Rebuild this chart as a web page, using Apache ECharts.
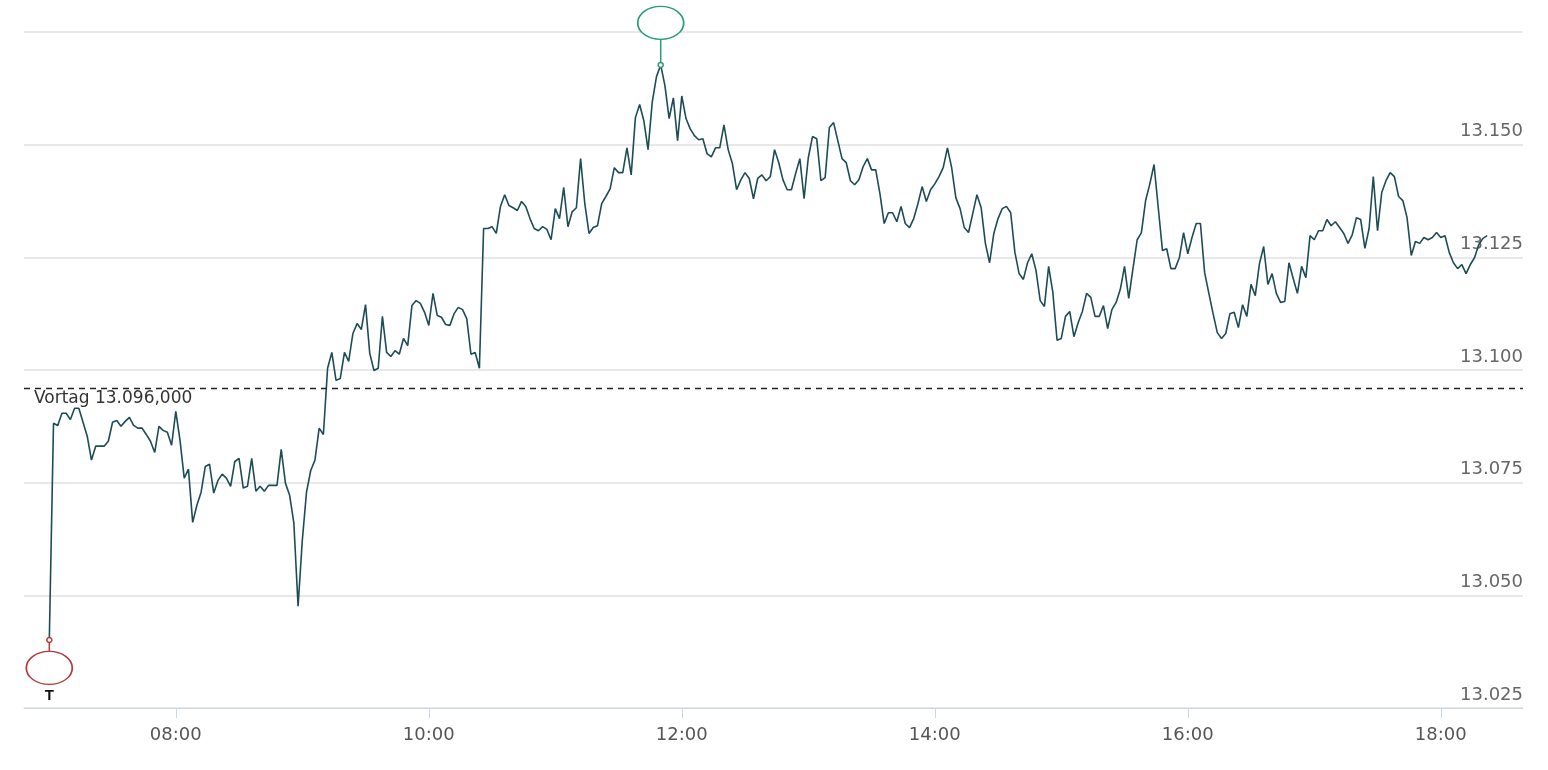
<!DOCTYPE html>
<html><head><meta charset="utf-8">
<script src="https://cdn.jsdelivr.net/npm/echarts@6/dist/echarts.min.js"></script>
<style>html,body{margin:0;padding:0;background:#fff}#c{width:1548px;height:770px}</style>
</head><body><div id="c"></div>
<script>
const startMinute = 420; // 07:00
const stepMinutes = 2;
const prevClose = 13096;
const xTickMinutes = [480, 600, 720, 840, 960, 1080];
const yTicks = [13025, 13050, 13075, 13100, 13125, 13150, 13175];
const values = [
13040.1,13088.2,13087.7,13090.4,13090.4,13089.0,13091.5,13091.5,13088.4,13085.3,13080.0,13083.1,13083.1,13083.1,13084.2,13088.4,13088.8,13087.5,13088.6,13089.5,
13087.7,13087.1,13087.1,13085.7,13084.2,13081.7,13087.5,13086.6,13086.2,13083.3,13090.8,13084.4,13076.0,13078.0,13066.2,13070.0,13072.9,13078.6,13079.1,13072.7,
13075.5,13076.9,13076.0,13074.2,13079.7,13080.4,13073.8,13074.2,13080.4,13073.1,13074.2,13073.1,13074.4,13074.4,13074.4,13082.4,13074.9,13072.2,13066.0,13047.6,
13062.2,13072.9,13077.7,13080.0,13087.1,13085.7,
13100.4,13103.9,13097.7,13098.1,13103.9,13101.9,13108.1,13110.3,13109.0,13114.5,13103.7,13099.9,13100.4,13111.9,13103.9,13103.0,13104.3,13103.5,13107.0,13105.4,
13114.3,13115.4,13114.8,13112.8,13109.9,13117.0,13112.1,13111.7,13110.1,13109.9,13112.5,13113.9,13113.4,13111.4,13103.5,13103.9,13100.4,13131.4,13131.4,13131.8,
13130.3,13136.3,13138.9,13136.5,13136.0,13135.4,13137.4,13136.3,13133.6,13131.4,13130.9,13131.8,13131.2,13128.9,13135.8,13133.6,13140.5,13131.8,13135.1,13136.0,
13146.9,13136.9,13130.3,13131.6,13132.0,13136.9,13138.5,13140.2,13144.9,13143.8,13143.8,13149.3,13143.3,13156.0,13158.9,13155.3,13148.9,13159.5,13165.1,13167.7,
13163.1,13155.8,13160.4,13150.9,13160.8,13155.8,13153.5,13152.0,13151.1,13151.3,13148.0,13147.3,
13149.3,13149.3,13154.4,13148.9,13145.8,13140.0,13142.2,13143.8,13142.5,13138.0,13142.5,13143.3,13142.0,13142.9,13148.9,13146.0,13142.2,13140.0,13140.0,13143.6,
13146.9,13138.0,13147.1,13151.8,13151.3,13142.0,13142.7,13153.8,13154.9,13150.9,13146.9,13146.0,13142.0,13141.1,13142.2,13145.1,13146.9,13144.4,13144.4,13139.1,
13132.5,13134.9,13134.9,13132.9,13136.3,13132.5,13131.6,13133.6,13136.9,13140.7,13137.4,13140.0,13141.3,13142.9,13144.9,13149.3,13144.9,13138.2,13135.8,13131.6,
13130.5,13134.7,13138.9,13136.0,13128.1,13123.8,13130.3,13133.6,13135.8,13136.3,13134.9,13126.1,13121.4,13120.1,13123.8,13125.8,13122.1,13115.4,13114.1,13123.0,
13117.2,13106.6,13107.0,13111.9,13113.0,13107.4,13110.5,13113.0,13117.0,13116.1,13111.9,13111.9,13114.3,13109.2,13113.4,
13115.0,13117.9,13123.0,13115.9,13122.5,13128.9,13130.5,13137.6,13141.3,13145.6,13136.0,13126.5,13126.9,13122.5,13122.5,13124.9,13130.5,13125.8,13129.4,13132.5,
13132.5,13121.6,13117.0,13112.5,13108.3,13107.0,13108.1,13112.5,13112.8,13109.4,13114.5,13111.9,13119.0,13116.5,13123.6,13127.4,13119.0,13121.4,13117.0,13115.0,
13115.2,13123.8,13120.3,13117.0,13123.0,13120.5,13129.8,13128.9,13130.9,13130.9,13133.4,13132.0,13132.9,13131.6,13130.3,13128.1,13130.0,13133.8,13133.4,13127.0,
13131.4,13142.9,13130.9,13139.4,13142.0,13143.8,13142.9,13138.5,13137.6,13133.8,13125.4,13128.5,13128.1,13129.4,13128.9,13129.4,13130.5,13129.4,13129.8,13126.1,
13123.8,13122.5,13123.4,13121.4,13123.4,13124.9,13127.8,13129.2,13129.8
];
const data = values.map((v, i) => [startMinute + i * stepMinutes, v]);
let hi = 0, lo = 0;
values.forEach((v, i) => { if (v > values[hi]) hi = i; if (v < values[lo]) lo = i; });

const pad = n => String(n).padStart(2, '0');
const fmtTime = m => pad(Math.floor(m / 60)) + ':' + pad(Math.round(m % 60));
const fmtNum = v => String(Math.round(v)).replace(/\B(?=(\d{3})+(?!\d))/g, '.');

function marker(idx, color, text, up) {
  const c = data[idx];
  return [
    { coord: c, symbol: 'rect', symbolSize: [1.5, up ? 26 : 14], symbolOffset: [0, up ? -13 : 7],
      itemStyle: { color: color }, label: { show: false } },
    { coord: c, symbol: 'circle', symbolSize: 5, itemStyle: { color: '#fff', borderColor: color, borderWidth: 1.5 }, label: { show: false } },
    { coord: c, symbol: 'circle', symbolSize: [46, 33], symbolOffset: [0, up ? -42 : 28],
      itemStyle: { color: '#fff', borderColor: color, borderWidth: 1.5 },
      label: { show: true, formatter: text, color: '#111', fontSize: 15, fontWeight: 'bold',
               fontFamily: 'Liberation Sans, Arial', offset: [0, up ? -42 : 28] } }
  ];
}

const chart = echarts.init(document.getElementById('c'));
chart.setOption({
  animation: false,
  grid: { left: 24, right: 25, top: 32, bottom: 62 },
  xAxis: {
    type: 'value', min: 408, max: 1119,
    axisLine: { show: true, lineStyle: { color: '#ccd6eb', width: 1 } },
    axisTick: { show: true, customValues: xTickMinutes, length: 10, lineStyle: { color: '#ccd6eb' } },
    axisLabel: { customValues: xTickMinutes, formatter: v => fmtTime(v), color: '#555', fontSize: 18,
                 fontFamily: 'DejaVu Sans', margin: 18 },
    splitLine: { show: false }
  },
  yAxis: {
    type: 'value', position: 'right', min: 13025, max: 13175, interval: 25,
    axisLine: { show: false }, axisTick: { show: false },
    axisLabel: { inside: true, verticalAlign: 'bottom', margin: 0, padding: [0, 0, 4, 0],
                 formatter: v => (v === 13175 ? '' : fmtNum(v)), color: '#666', fontSize: 18, fontFamily: 'DejaVu Sans' },
    splitLine: { lineStyle: { color: '#e0e0e0', width: 1.5 } }
  },
  series: [{
    type: 'line', data: data, showSymbol: false, z: 3,
    lineStyle: { color: '#1c4c58', width: 1.6 },
    markLine: {
      silent: true, symbol: 'none',
      lineStyle: { color: '#222', type: [6, 5], width: 1.3 },
      label: { position: 'insideStartBottom', formatter: 'Vortag ' + fmtNum(prevClose) + ',000',
               color: '#333', fontSize: 17, fontFamily: 'DejaVu Sans', distance: [10, 2] },
      data: [{ yAxis: prevClose }]
    },
    markPoint: {
      silent: true,
      data: marker(hi, '#2a9b78', 'H', true).concat(marker(lo, '#b23a3a', 'T', false))
    }
  }]
});
</script></body></html>
